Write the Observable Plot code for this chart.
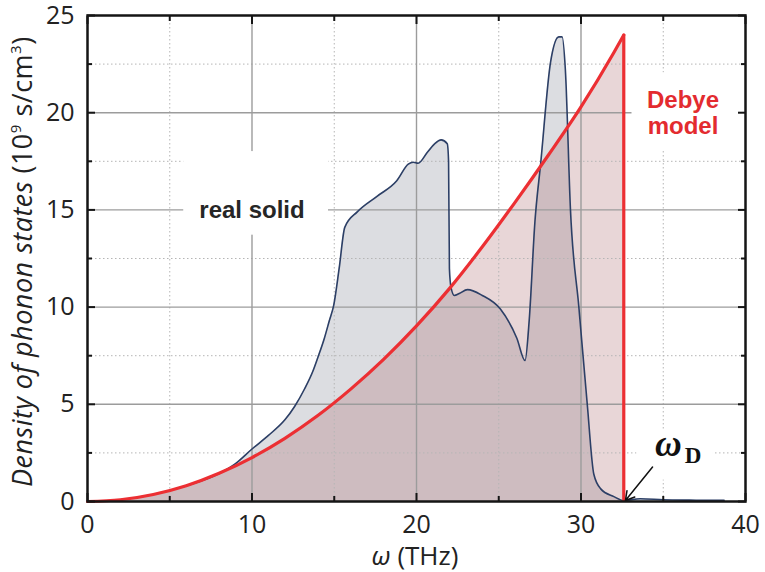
<!DOCTYPE html>
<html><head><meta charset="utf-8">
<script src="https://cdn.jsdelivr.net/npm/d3@7"></script>
<script src="https://cdn.jsdelivr.net/npm/@observablehq/plot@0.6"></script>
<style>body{margin:0;background:#fff} svg{display:block}</style>
</head><body><div id="chart"></div>
<script>
// Real solid density of states
const realX = [0, 2, 4, 6, 8, 9, 10, 11, 12, 12.6, 13.2, 13.7, 14.0, 14.4, 14.7, 14.97, 15.3, 15.64, 16.4, 17.6, 18.8, 19.5, 19.8, 20.1, 20.65, 21.1, 21.5, 21.87, 21.95, 22.0, 22.1, 22.3, 22.6, 23.1, 24.0, 25.1, 26.1, 26.6, 26.85, 27.2, 27.55, 28.15, 28.65, 28.85, 29.05, 29.36, 29.87, 30.38, 30.78, 31.2, 32.0, 32.6, 33.6, 35, 36.5, 38.7];
const realY = [0, 0.09, 0.36, 0.81, 1.44, 1.95, 2.7, 3.4, 4.2, 4.9, 5.8, 6.7, 7.4, 8.4, 9.3, 10.1, 12.0, 14.1, 14.9, 15.7, 16.5, 17.35, 17.45, 17.4, 17.95, 18.4, 18.6, 18.4, 17.5, 12.0, 11.0, 10.6, 10.7, 10.9, 10.6, 9.9, 8.4, 7.25, 9.3, 14.4, 17.4, 22.6, 23.9, 23.9, 22.2, 15.0, 10.0, 5.0, 1.4, 0.65, 0.25, 0.05, 0.14, 0.09, 0.07, 0.06];
// Debye model
const debyeX = [0, 2, 4, 6, 8, 10, 12, 14, 16, 18, 20, 22, 24, 26, 28, 30, 32, 32.6];
const debyeY = [0, 0.09, 0.36, 0.81, 1.45, 2.26, 3.25, 4.42, 5.78, 7.31, 9.03, 10.95, 13.1, 15.4, 17.8, 20.3, 23.1, 24.0];
// Ticks
const xMajor = [0, 10, 20, 30, 40];
const xMinor = [5, 15, 25, 35];
const yMajor = [0, 5, 10, 15, 20, 25];
const yMinor = [2.5, 7.5, 12.5, 17.5, 22.5];

const real = realX.map((x, i) => ({x, y: realY[i]}));
const debye = debyeX.map((x, i) => ({x, y: debyeY[i]}));
const omegaD = debyeX[debyeX.length - 1];
const debyeMax = debyeY[debyeY.length - 1];

const font = "Open Sans";
const red = "#ec2f33";
const gridMajor = {stroke: "#9c9c9c", strokeOpacity: 1, strokeWidth: 1.4};
const gridMinor = {stroke: "#b5b5b5", strokeOpacity: 1, strokeWidth: 1, strokeDasharray: "1.5,2.5"};
const tickStyle = {tickFormat: () => "", label: null, stroke: "#151515", strokeWidth: 2};

const chart = Plot.plot({
  width: 765, height: 572,
  marginLeft: 87, marginRight: 20, marginTop: 15, marginBottom: 71,
  style: {fontFamily: font, background: "#fff"},
  x: {domain: [0, 40]},
  y: {domain: [0, 25]},
  marks: [
    Plot.areaY(real, {x: "x", y: "y", fill: "#dcdde1", curve: "monotone-x"}),
    Plot.areaY(debye, {x: "x", y: "y", fill: "rgb(163,91,95)", fillOpacity: 0.25, curve: "monotone-x"}),
    Plot.gridX(xMinor, gridMinor),
    Plot.gridY(yMinor, gridMinor),
    Plot.gridX(xMajor.slice(1, -1), gridMajor),
    Plot.gridY(yMajor.slice(1, -1), gridMajor),
    // white label backgrounds
    Plot.rect([0], {x1: 5.85, x2: 14.65, y1: 13.7, y2: 18.0, fill: "white"}),
    Plot.rect([0], {x1: 33.1, x2: 40, y1: 18.05, y2: 22.05, fill: "white"}),
    Plot.rect([0], {x1: 33.4, x2: 38.05, y1: 1.1, y2: 3.65, fill: "white"}),
    Plot.line(real, {x: "x", y: "y", stroke: "#2c3f66", strokeWidth: 1.6, curve: "monotone-x"}),
    Plot.line(debye, {x: "x", y: "y", stroke: red, strokeWidth: 3.2, curve: "monotone-x"}),
    Plot.ruleX([omegaD], {y1: 0, y2: debyeMax, stroke: red, strokeWidth: 3.2}),
    Plot.text(["real solid"], {x: 10, y: 15, fontFamily: "Liberation Sans", fontWeight: "bold", fontSize: 24, fill: "#262626"}),
    Plot.text(["Debye\nmodel"], {x: 36.2, y: 20, fontFamily: "Liberation Sans", fontWeight: "bold", fontSize: 24, lineHeight: 1.08, fill: "#e32b2f"}),
    Plot.text(["ω"], {x: 34.5, y: 2.95, textAnchor: "start", fontFamily: "Liberation Serif", fontStyle: "italic", fontWeight: "bold", fontSize: 37, fill: "#111"}),
    Plot.text(["D"], {x: 36.3, y: 2.38, textAnchor: "start", fontFamily: "Liberation Serif", fontWeight: "bold", fontSize: 23, fill: "#111"}),
    Plot.arrow([0], {x1: omegaD + 1.75, y1: 1.77, x2: omegaD + 0.1, y2: 0.05, stroke: "#111", strokeWidth: 1.5, headLength: 10}),
    Plot.frame({stroke: "#151515", strokeWidth: 2.5}),
    // inward ticks
    Plot.axisX(xMajor, {anchor: "bottom", tickSize: -8, ...tickStyle}),
    Plot.axisX(xMinor, {anchor: "bottom", tickSize: -5, ...tickStyle}),
    Plot.axisX(xMajor, {anchor: "top", tickSize: -8, ...tickStyle}),
    Plot.axisX(xMinor, {anchor: "top", tickSize: -5, ...tickStyle}),
    Plot.axisY(yMajor, {anchor: "left", tickSize: -8, ...tickStyle}),
    Plot.axisY(yMinor, {anchor: "left", tickSize: -5, ...tickStyle}),
    Plot.axisY(yMajor, {anchor: "right", tickSize: -8, ...tickStyle}),
    Plot.axisY(yMinor, {anchor: "right", tickSize: -5, ...tickStyle}),
    // tick labels
    Plot.axisX(xMajor, {anchor: "bottom", tickSize: 0, tickPadding: 14, label: null, fontSize: 25, fill: "#222", fontFamily: font}),
    Plot.axisY(yMajor, {anchor: "left", tickSize: 0, tickPadding: 13, label: null, fontSize: 25, fill: "#222", fontFamily: font})
  ]
});

document.getElementById("chart").appendChild(chart);

const svg = d3.select(chart);
const yl = svg.append("text")
  .attr("transform", "translate(32,487) rotate(-90)")
  .attr("text-anchor", "start")
  .attr("font-family", font).attr("font-size", 27).attr("letter-spacing", 0.5).attr("fill", "#222");
yl.append("tspan").attr("font-style", "italic").text("Density of phonon states ");
yl.append("tspan").text("(10");
yl.append("tspan").attr("font-size", 15).attr("dy", -11).text("9");
yl.append("tspan").attr("dy", 11).text(" s/cm");
yl.append("tspan").attr("font-size", 15).attr("dy", -11).text("3");
yl.append("tspan").attr("dy", 11).text(")");

const xl = svg.append("text")
  .attr("x", 415).attr("y", 565)
  .attr("text-anchor", "middle")
  .attr("font-family", font).attr("font-size", 26).attr("fill", "#222");
xl.append("tspan").attr("font-style", "italic").text("ω");
xl.append("tspan").text(" (THz)");
</script>
</body></html>
